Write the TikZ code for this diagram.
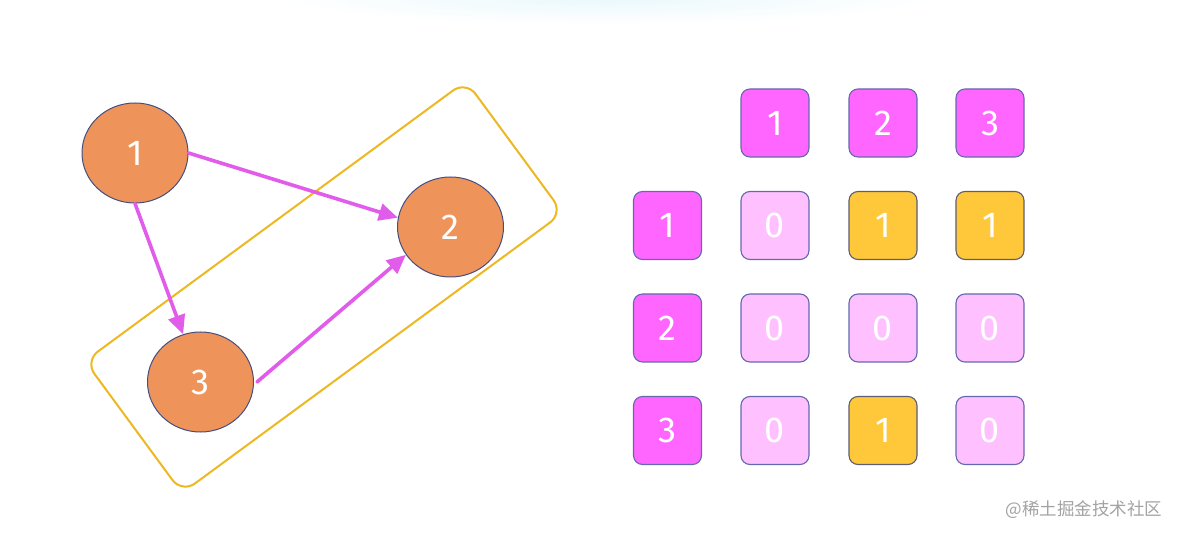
\documentclass[tikz,border=0pt]{standalone}
\usepackage{fontspec}
\usetikzlibrary{shapes.geometric,arrows.meta}
\newfontfamily\digitfont{Fira Sans}
\newfontfamily\cjkfont{Noto Sans CJK SC}
\definecolor{nodeorange}{HTML}{EE945A}
\definecolor{nodeborder}{HTML}{454E80}
\definecolor{arrowmag}{HTML}{E25CEC}
\definecolor{groupyellow}{HTML}{EDB821}
\definecolor{headmag}{HTML}{FF66FF}
\definecolor{lightpink}{HTML}{FFC0FF}
\definecolor{cellyellow}{HTML}{FFC83A}
\definecolor{cellborder}{HTML}{6468AE}
\definecolor{yellowborder}{HTML}{5E5E72}
\definecolor{glow}{HTML}{EAF8FC}
\definecolor{wmgray}{HTML}{A3A3A3}
\tikzset{
  gnode/.style={ellipse, draw=nodeborder, line width=1pt, fill=nodeorange,
    minimum width=106pt, minimum height=100pt, inner sep=0pt, text=white,
    font=\digitfont\fontsize{36}{36}\selectfont},
  cellbox/.style={rectangle, rounded corners=9pt, minimum width=68pt, minimum height=68pt,
    inner sep=0pt, draw=cellborder, line width=1.1pt, text=white,
    font=\digitfont\fontsize{36}{36}\selectfont},
  headcell/.style={cellbox, fill=headmag},
  zerocell/.style={cellbox, fill=lightpink},
  onecell/.style={cellbox, fill=cellyellow, draw=yellowborder},
  edgearrow/.style={draw=arrowmag, line width=3.6pt, line cap=round,
    -{Triangle[length=19pt,width=17pt]}},
  groupbox/.style={draw=groupyellow, line width=2pt, rounded corners=16pt},
}
\begin{document}
\begin{tikzpicture}[x=1pt,y=-1pt]
\useasboundingbox[fill=white] (0,0) rectangle (1181,537);
% faint glow at top
\shade[inner color=glow, outer color=white] (605,-2) ellipse [x radius=330, y radius=26];

% group rectangle
\draw[groupbox] (466,81) -- (563,213) -- (182,493) -- (85,361) -- cycle;

% graph nodes
\node[gnode] (n1) at (135,153) {1};
\node[gnode] (n2) at (450.5,227) {2};
\node[gnode] (n3) at (200.5,382) {3};

% edges
\draw[edgearrow] (n1.east) -- (n2.170);
\draw[edgearrow] (n1.south) -- (n3.110);
\draw[edgearrow] ([xshift=3pt]n3.east) -- (n2.212);

% matrix header
\node[headcell] (h1) at (775,123) {1};
\node[headcell] (h2) at (883,123) {2};
\node[headcell] (h3) at (990,123) {3};
\node[headcell] (r1) at (667.5,225.5) {1};
\node[headcell] (r2) at (667.5,328) {2};
\node[headcell] (r3) at (667.5,430.5) {3};
% matrix body
\node[zerocell] (c11) at (775,225.5) {0};
\node[onecell]  (c12) at (883,225.5) {1};
\node[onecell]  (c13) at (990,225.5) {1};
\node[zerocell] (c21) at (775,328) {0};
\node[zerocell] (c22) at (883,328) {0};
\node[zerocell] (c23) at (990,328) {0};
\node[zerocell] (c31) at (775,430.5) {0};
\node[onecell]  (c32) at (883,430.5) {1};
\node[zerocell] (c33) at (990,430.5) {0};

% watermark
\node[text=wmgray, font=\cjkfont\fontsize{17.5}{17.5}\selectfont, inner sep=0pt] (wm) at (1084,510) {@稀土掘金技术社区};
\end{tikzpicture}
\end{document}
